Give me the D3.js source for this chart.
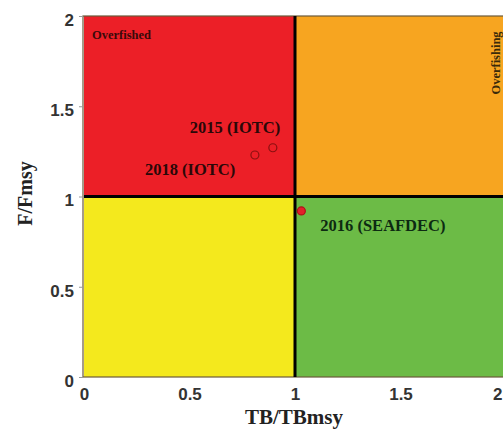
<!DOCTYPE html>
<html>
<head>
<meta charset="utf-8">
<script src="https://cdn.jsdelivr.net/npm/d3@7"></script>
<style>
  body { margin: 0; background: #fff; }
  svg { display: block; }
</style>
</head>
<body>
<div id="chart"></div>
<script>
// kobe-style quadrant plot
var xTicks = [0, 0.5, 1, 1.5, 2];
var yTicks = [0, 0.5, 1, 1.5, 2];
var quadrants = [
    { x0: 0, x1: 1, y0: 1, y1: 2, color: '#ec1f27' },
    { x0: 1, x1: 2, y0: 1, y1: 2, color: '#f7a520' },
    { x0: 0, x1: 1, y0: 0, y1: 1, color: '#f4e91d' },
    { x0: 1, x1: 2, y0: 0, y1: 1, color: '#6cbb46' }
];
var pointNames = ['2015 (IOTC)', '2018 (IOTC)', '2016 (SEAFDEC)'];
var pointB = [0.895, 0.81, 1.03];
var pointF = [1.27, 1.23, 0.92];
var pointFilled = [false, false, true];

var width = 503;
var height = 431;

var svg = d3.select('#chart')
    .append('svg')
    .attr('width', width)
    .attr('height', height);

var x = d3.scaleLinear().domain([0, 2]).range([84, 506]);
var y = d3.scaleLinear().domain([0, 2]).range([377, 16]);

var g = svg.append('g');

g.selectAll('rect.q')
    .data(quadrants)
    .enter().append('rect')
    .attr('class', 'q')
    .attr('x', function (d) { return x(d.x0); })
    .attr('y', function (d) { return y(d.y1); })
    .attr('width', function (d) { return x(d.x1) - x(d.x0); })
    .attr('height', function (d) { return y(d.y0) - y(d.y1); })
    .attr('fill', function (d) { return d.color; });

// border
g.append('rect')
    .attr('x', x(0) - 1)
    .attr('y', y(2))
    .attr('width', x(2) - x(0) + 1)
    .attr('height', y(0) - y(2))
    .attr('fill', 'none')
    .attr('stroke', '#6b5a3a')
    .attr('stroke-width', 1.2);

// reference lines at 1
g.append('line')
    .attr('x1', x(1)).attr('x2', x(1))
    .attr('y1', y(2)).attr('y2', y(0))
    .attr('stroke', '#000').attr('stroke-width', 3);
g.append('line')
    .attr('x1', x(0)).attr('x2', x(2))
    .attr('y1', y(1)).attr('y2', y(1))
    .attr('stroke', '#000').attr('stroke-width', 3);

// axes
var yAxis = d3.axisLeft(y).tickValues(yTicks).tickFormat(d3.format('')).tickSize(4).tickPadding(5);
var xAxis = d3.axisBottom(x).tickValues(xTicks).tickFormat(d3.format('')).tickSize(0).tickPadding(11);

var ya = svg.append('g').attr('transform', 'translate(' + (x(0) - 1) + ',0)').call(yAxis);
var xa = svg.append('g').attr('transform', 'translate(0,' + y(0) + ')').call(xAxis);

[ya, xa].forEach(function (a) {
    a.select('.domain').remove();
    a.selectAll('line').attr('stroke', '#999');
    a.selectAll('text')
        .attr('fill', '#333')
        .style('font-family', 'Liberation Sans, Arial, sans-serif')
        .style('font-weight', 'bold')
        .style('font-size', '17px');
});
ya.selectAll('text').attr('dy', '0.55em');
// last x label sits on the edge in the original; keep it just inside
xa.selectAll('.tick').filter(function (d) { return d === 2; })
    .select('text').attr('text-anchor', 'end').attr('dx', '-4');

// axis titles
svg.append('text')
    .attr('x', 294).attr('y', 424)
    .attr('text-anchor', 'middle')
    .style('font-family', 'Liberation Serif, Times New Roman, serif')
    .style('font-weight', 'bold')
    .style('font-size', '21px')
    .attr('fill', '#222')
    .text('TB/TBmsy');

svg.append('text')
    .attr('transform', 'translate(32,' + (y(1) - 3) + ') rotate(-90)')
    .attr('text-anchor', 'middle')
    .style('font-family', 'Liberation Serif, Times New Roman, serif')
    .style('font-weight', 'bold')
    .style('font-size', '20px')
    .attr('fill', '#222')
    .text('F/Fmsy');

// quadrant notes
svg.append('text')
    .attr('x', 92).attr('y', 39)
    .style('font-family', 'Liberation Serif, Times New Roman, serif')
    .style('font-weight', 'bold')
    .style('font-size', '12.5px')
    .attr('fill', '#3a0a0a')
    .text('Overfished');

svg.append('text')
    .attr('transform', 'translate(500,63) rotate(-90)')
    .attr('text-anchor', 'middle')
    .style('font-family', 'Liberation Serif, Times New Roman, serif')
    .style('font-weight', 'bold')
    .style('font-size', '12.5px')
    .attr('fill', '#3a2a0a')
    .text('Overfishing');

// points
var idx = d3.range(pointNames.length);
g.selectAll('circle.pt')
    .data(idx)
    .enter().append('circle')
    .attr('class', 'pt')
    .attr('cx', function (i) { return x(pointB[i]); })
    .attr('cy', function (i) { return y(pointF[i]); })
    .attr('r', 4)
    .attr('fill', function (i) { return pointFilled[i] ? '#e3202a' : 'none'; })
    .attr('stroke', function (i) { return pointFilled[i] ? '#b01018' : '#8a1010'; })
    .attr('stroke-width', 1.2);

// point labels
var labelDx = [-83, -110, 19];
var labelDy = [-15, 20, 20];
g.selectAll('text.lab')
    .data(idx)
    .enter().append('text')
    .attr('class', 'lab')
    .attr('x', function (i) { return x(pointB[i]) + labelDx[i]; })
    .attr('y', function (i) { return y(pointF[i]) + labelDy[i]; })
    .style('font-family', 'Liberation Serif, Times New Roman, serif')
    .style('font-weight', 'bold')
    .style('font-size', '16.5px')
    .attr('fill', function (i) { return i === 2 ? '#0d2a12' : '#2a0808'; })
    .text(function (i) { return pointNames[i]; });
</script>
</body>
</html>
